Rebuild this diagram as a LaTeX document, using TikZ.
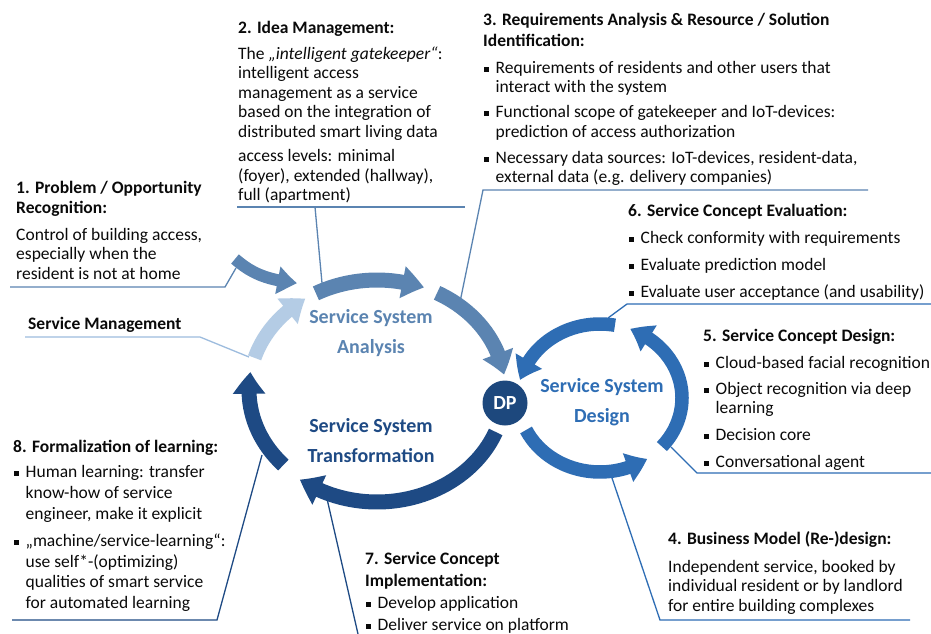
\documentclass[tikz,border=0pt]{standalone}
\usepackage{fontspec}
\setmainfont{Carlito}
\usetikzlibrary{arrows.meta,bending,calc}
\definecolor{steel}{RGB}{91,132,177}
\definecolor{lightb}{RGB}{180,204,229}
\definecolor{smline}{RGB}{157,188,222}
\definecolor{navy}{RGB}{30,74,132}
\definecolor{dpnavy}{RGB}{29,72,125}
\definecolor{dblue}{RGB}{46,109,180}
\definecolor{txt}{RGB}{10,10,10}
\newcommand\bodyfont{\fontsize{17.5}{19.5}\selectfont}
\newcommand\ringfont{\fontsize{20}{30}\selectfont\bfseries}
\newcommand\fs{\rule{0pt}{14pt}}
\newcommand\rs{\rule{0pt}{21pt}}
\newcommand\blt{\makebox[12.5pt][l]{\hspace{1pt}\rule[1.5pt]{5.2pt}{5.2pt}}}
\newcommand\ind{\hspace*{12.5pt}}
\begin{document}
\begin{tikzpicture}[x=1pt,y=-1pt,
  txtblock/.style={anchor=north west, inner sep=0pt, align=left, font=\bodyfont, text=txt},
  ringlabel/.style={anchor=north, inner sep=0pt, align=center, font=\ringfont},
  leader/.style={line width=1.3pt},
  ringarrow/.style={line width=15pt, -{Triangle[width=31pt,length=22pt,bend]}},
  designarrow/.style={line width=13.5pt, -{Triangle[width=29pt,length=21pt,bend]}}]
\fill[white] (0,0) rectangle (931,634);
\useasboundingbox (0,0) rectangle (931,634);

% ---------- text blocks ----------
\node[txtblock] (t1) at (16,179) {\fs\textbf{1. Problem / Opportunity}\\[0.5pt]
  \textbf{Recognition:}\\[7.5pt]
  Control of building access,\\
  especially when the\\
  resident is not at home};
\node[txtblock] (tsm) at (28,315) {\fs\textbf{Service Management}};
\node[txtblock] (t2) at (238,19) {\fs\textbf{2. Idea Management:}\\[6.5pt]
  The \textit{„intelligent gatekeeper“}:\\
  intelligent access\\
  management as a service\\
  based on the integration of\\
  distributed smart living data\\[5pt]
  access levels: minimal\\
  (foyer), extended (hallway),\\
  full (apartment)};
\node[txtblock] (t3) at (483,11) {\fs\textbf{3. Requirements Analysis \& Resource / Solution}\\[1.5pt]
  \textbf{Identification:}\\[7.5pt]
  \blt Requirements of residents and other users that\\
  \ind interact with the system\\[5.5pt]
  \blt Functional scope of gatekeeper and IoT-devices:\\
  \ind prediction of access authorization\\[6.5pt]
  \blt Necessary data sources: IoT-devices, resident-data,\\
  \ind external data (e.g. delivery companies)};
\node[txtblock] (t6) at (628,202) {\fs\textbf{6. Service Concept Evaluation:}\\[7.5pt]
  \blt Check conformity with requirements\\[7.5pt]
  \blt Evaluate prediction model\\[7.5pt]
  \blt Evaluate user acceptance (and usability)};
\node[txtblock] (t5) at (703,327) {\fs\textbf{5. Service Concept Design:}\\[7.5pt]
  \blt Cloud-based facial recognition\\[6.5pt]
  \blt Object recognition via deep\\
  \ind learning\\[7.5pt]
  \blt Decision core\\[7.5pt]
  \blt Conversational agent};
\node[txtblock] (t4) at (668,530) {\fs\textbf{4. Business Model (Re-)design:}\\[8.5pt]
  Independent service, booked by\\
  individual resident or by landlord\\
  for entire building complexes};
\node[txtblock] (t7) at (365,550) {\fs\textbf{7. Service Concept}\\[2.5pt]
  \textbf{Implementation:}\\[3pt]
  \blt Develop application\\[2pt]
  \blt Deliver service on platform};
\node[txtblock] (t8) at (13,438) {\fs\textbf{8. Formalization of learning:}\\[5.5pt]
  \blt Human learning: transfer\\[1.5pt]
  \ind know-how of service\\[1.5pt]
  \ind engineer, make it explicit\\[8pt]
  \blt „machine/service-learning“:\\[1pt]
  \ind use self*-(optimizing)\\[1pt]
  \ind qualities of smart service\\[1pt]
  \ind for automated learning};

% ---------- leader lines ----------
\coordinate (l1a) at (10,287);   \coordinate (l1b) at (225,287);  \coordinate (l1c) at (236,268);
\coordinate (lsa) at (25,337);   \coordinate (lsb) at (200,337);  \coordinate (lsc) at (249,357);
\coordinate (l2a) at (237,207);  \coordinate (l2b) at (465,207);  \coordinate (l2k) at (315,207); \coordinate (l2c) at (322,283);
\coordinate (l3a) at (483,190);  \coordinate (l3b) at (868,190);  \coordinate (l3c) at (460,302);
\coordinate (l6a) at (627,304);  \coordinate (l6b) at (931,304);  \coordinate (l6c) at (608,318);
\coordinate (l5a) at (697,473);  \coordinate (l5b) at (931,473);  \coordinate (l5c) at (671,447);
\coordinate (l4a) at (910,620);  \coordinate (l4b) at (660,620);  \coordinate (l4c) at (612,478);
\coordinate (l7a) at (325,490);  \coordinate (l7b) at (358,634);
\coordinate (l8a) at (12,620);   \coordinate (l8b) at (217,620);  \coordinate (l8c) at (262,455);

\draw[leader, steel] (l1a) -- (l1b) -- (l1c);
\draw[leader, smline] (lsa) -- (lsb) -- (lsc);
\draw[leader, steel] (l2a) -- (l2b);
\draw[leader, steel] (l2k) -- (l2c);
\draw[leader, steel] (l3b) -- (l3a) -- (l3c);
\draw[leader, dblue] (l6b) -- (l6a) -- (l6c);
\draw[leader, dblue] (l5b) -- (l5a) -- (l5c);
\draw[leader, dblue] (l4a) -- (l4b) -- (l4c);
\draw[leader, navy] (l7a) -- (l7b);
\draw[leader, navy] (l8a) -- (l8b) -- (l8c);

% ---------- ring arrows ----------
\coordinate (cL) at (377,390);
\coordinate (cR) at (600,398);

% analysis (left ring, upper)
\draw[ringarrow, steel] ($(cL)+(118.5:128pt and 110pt)$)
  arc[start angle=118.5, end angle=68.5, x radius=128pt, y radius=110pt];
\draw[ringarrow, steel] ($(cL)+(62:128pt and 110pt)$)
  arc[start angle=62, end angle=8, x radius=128pt, y radius=110pt];
% transformation (left ring, lower)
\draw[ringarrow, navy] ($(cL)+(-22:128pt and 112pt)$)
  arc[start angle=-22, end angle=-127, x radius=128pt, y radius=112pt];
\draw[ringarrow, navy] ($(cL)+(-137:128pt and 110pt)$)
  arc[start angle=-137, end angle=-189.4, x radius=128pt, y radius=110pt];
% service management
\draw[ringarrow, lightb, line width=14pt] ($(cL)+(163:128pt and 110pt)$)
  arc[start angle=163, end angle=124, x radius=128pt, y radius=110pt];
% problem recognition entry arrow
\coordinate (pa) at (235,259);
\coordinate (pb) at (297,283);
\draw[steel, line width=12pt, -{Triangle[width=26pt,length=20pt,bend]}]
  (pa) .. controls (250,272) and (265,280) .. (pb);

% design (right ring)
\draw[designarrow, dblue] ($(cR)+(79.5:82pt and 74pt)$)
  arc[start angle=79.5, end angle=166, x radius=82pt, y radius=74pt];
\draw[designarrow, dblue] ($(cR)+(205.6:82pt and 74pt)$)
  arc[start angle=205.6, end angle=305, x radius=82pt, y radius=74pt];
\draw[designarrow, dblue] ($(cR)+(-41:82pt and 74pt)$)
  arc[start angle=-41, end angle=68.5, x radius=82pt, y radius=74pt];

% ---------- ring labels ----------
\node[ringlabel, text=steel] (analysis) at (371,302) {\rs Service System\\Analysis};
\node[ringlabel, text=navy] (transformation) at (371,411) {\rs Service System\\Transformation};
\node[ringlabel, text=dblue] (design) at (602,371) {\rs Service System\\Design};
\node[circle, fill=dpnavy, minimum size=45pt, inner sep=0pt, text=white,
  font=\fontsize{20}{24}\selectfont\bfseries] (dp) at (505,403) {DP};
\end{tikzpicture}
\end{document}
